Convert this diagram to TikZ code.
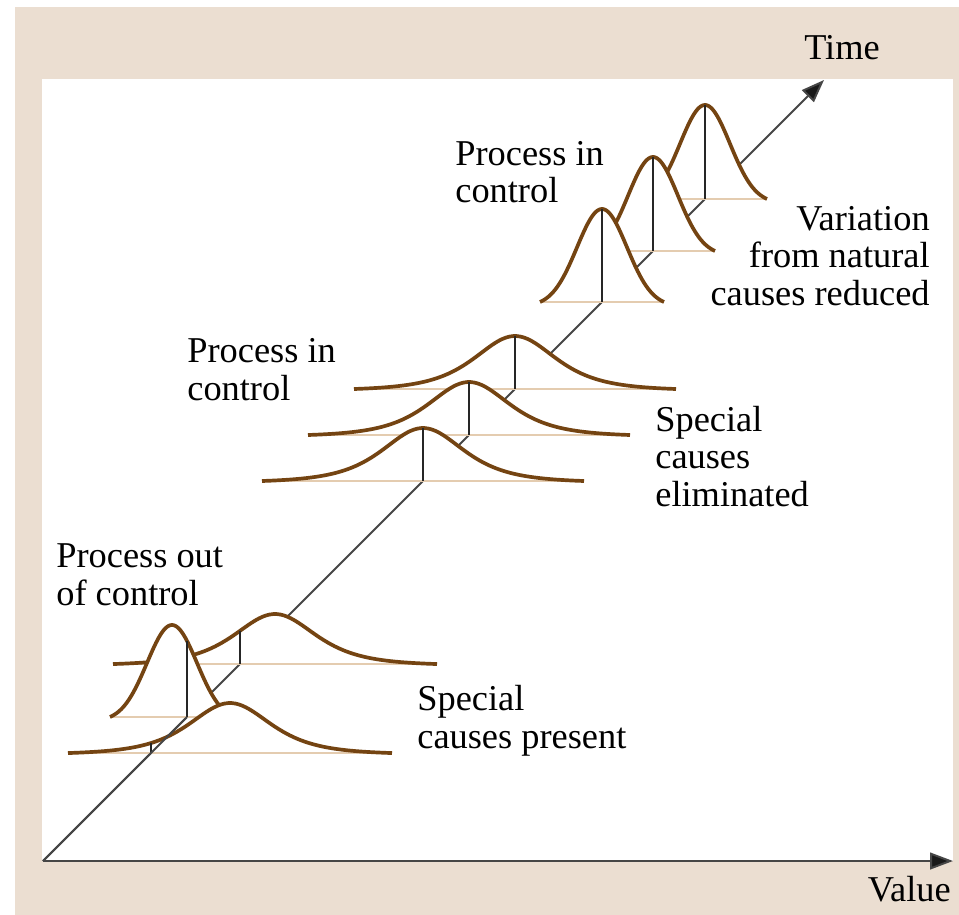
\documentclass[tikz,border=0pt]{standalone}
\usepackage{fontspec}
\setmainfont{Liberation Serif}
\usetikzlibrary{arrows.meta}

\definecolor{framebg}{RGB}{235,222,209}
\definecolor{bellbrown}{RGB}{116,68,18}
\definecolor{floortan}{RGB}{228,204,176}
\definecolor{axisgray}{RGB}{70,70,70}

% shape, centre x, baseline y, half width, height, x of mean line
\newcommand{\bellcurve}[6]{%
  \fill[white] plot[domain=-#4:#4] ({#2+\x},{#3-#1(\x,#5)}) -- cycle;
  \draw[floorline] (#2-#4,#3) -- (#2+#4,#3);
  \draw[bell] plot[domain=-#4:#4] ({#2+\x},{#3-#1(\x,#5)});
  \draw[meanline] (#6,#3) -- (#6,{#3-#1(#6-#2,#5)});
}

\begin{document}
\begin{tikzpicture}[
  x=0.02cm, y=-0.02cm, samples=90,
  declare function={
    nb(\t,\h)=\h*(exp(-(\t*\t)/1250)-0.046)/0.954;
    wu(\t)=1+(\t/75)*(\t/75);
    wb(\t,\h)=\h*(1/(wu(\t)*wu(\t))-0.032)/0.968;
  },
  bell/.style={draw=bellbrown, line width=2.1pt, line join=round},
  floorline/.style={draw=floortan, line width=0.7pt},
  meanline/.style={draw=black!85, line width=0.8pt},
  axis/.style={draw=axisgray, line width=1.1pt,
    -{Triangle[length=13pt, width=9.5pt, fill=black!90]}},
  note/.style={inner sep=0pt, font=\fontsize{20.7}{21.2}\selectfont, text=black}
]
\useasboundingbox (0,0) rectangle (959,915);
\fill[framebg] (15,7) rectangle (959,915);
\fill[white] (42,79) rectangle (953,861);

\coordinate (origin) at (43,861);
\coordinate (timeend) at (824,80);
\coordinate (valueend) at (953,861);
\coordinate (outbase) at (187,717);

\draw[axis] (origin) -- (timeend);
\draw[axis] (origin) -- (valueend);

% variation reduced
\bellcurve{nb}{705}{199}{62}{94}{705}
\bellcurve{nb}{653}{251}{62}{94}{653}
\bellcurve{nb}{602}{302}{62}{93}{602}

% special causes eliminated
\bellcurve{wb}{515}{389}{161}{53}{515}
\bellcurve{wb}{469}{435}{161}{53}{469}
\bellcurve{wb}{423}{481}{161}{53}{423}

% out of control
\bellcurve{wb}{275}{664}{162}{50}{240}
\bellcurve{nb}{172}{717}{62}{92}{187}
\bellcurve{wb}{230}{753}{162}{50}{151}
\draw[axisgray, line width=1.1pt] (origin) -- (outbase);

\node[note, anchor=base] (time) at (842,60) {Time};
\node[note, anchor=base east] (value) at (951,901) {Value};
\node[note, anchor=base west, align=left] (ctrlhigh) at (455,203) {Process in\\control};
\node[note, anchor=base east, align=right] (natural) at (930,305) {Variation\\from natural\\causes reduced};
\node[note, anchor=base west, align=left] (ctrlmid) at (187,400) {Process in\\control};
\node[note, anchor=base west, align=left] (eliminated) at (655,506) {Special\\causes\\eliminated};
\node[note, anchor=base west, align=left] (outctrl) at (56,605) {Process out\\of control};
\node[note, anchor=base west, align=left] (present) at (417,748) {Special\\causes present};
\end{tikzpicture}
\end{document}
